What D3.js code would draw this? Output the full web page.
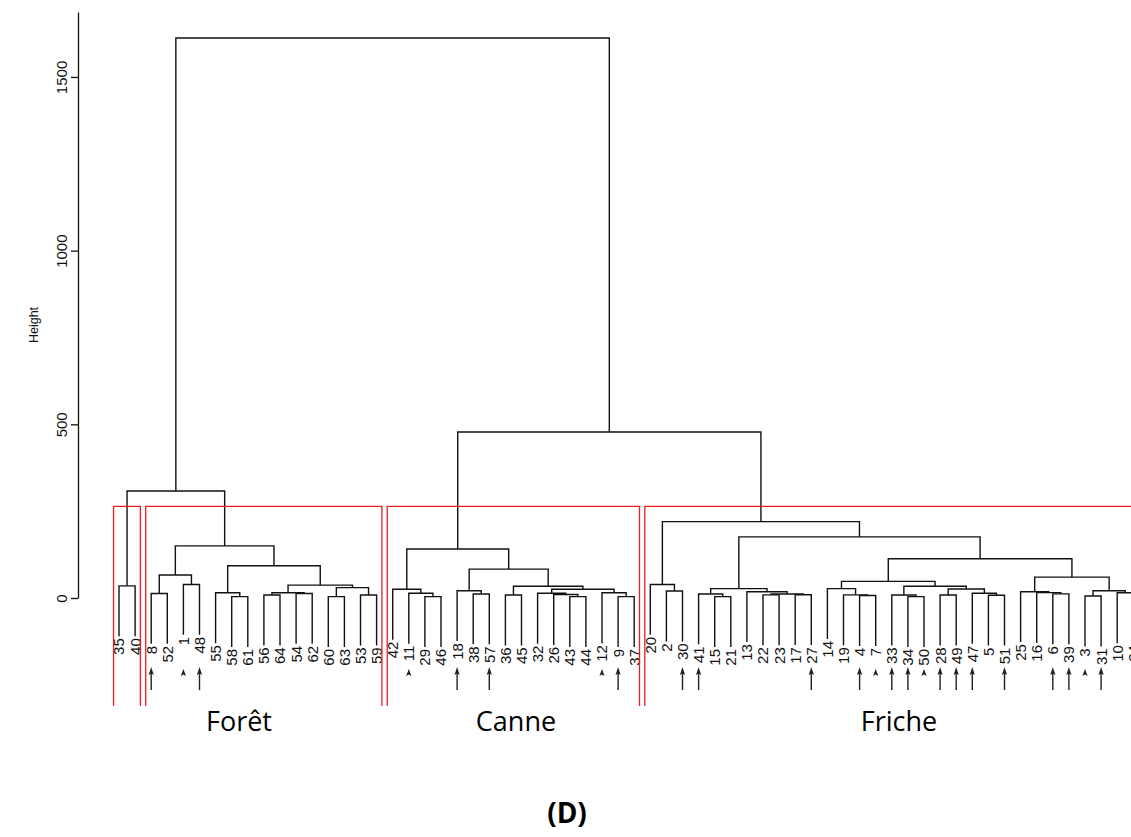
<!DOCTYPE html>
<html><head><meta charset="utf-8">
<script src="https://cdn.jsdelivr.net/npm/d3@7"></script>
<style>body{margin:0;background:#fff}</style>
</head><body><svg id="chart" width="1131" height="837"></svg>
<script>
// ---------- data ----------
// Internal nodes: [height, left, right]; leaves: observation number
const pairForet = [35, 35, 40];
const foretMain = [150,
  [66, [13, 8, 52], [39, 1, 48]],
  [93, [15, 55, [4, 58, 61]],
       [37, [15, [8.6, 56, 64], [13, 54, 62]], [30, [4, 60, 63], [8.6, 53, 59]]]]];
const canne = [141,
  [25, 42, [13.5, 11, [4, 29, 46]]],
  [83, [21, 18, [11.5, 38, 57]],
       [34, [8.6, 36, 45], [25, [13.5, 32, [10, 26, [4, 43, 44]]], [15, 12, [4, 9, 37]]]]]];
const friche = [220,
  [39, 20, [20, 2, 30]],
  [176,
    [27, [11.5, 41, [4, 15, 21]], [18, 13, [11.5, [9, 22, 23], [9.5, 17, 27]]]],
    [113,
      [48, [27, 14, [9, 19, [7, 4, 7]]],
           [34, [8.5, 33, [4, 34, 50]], [26, [8.6, 28, 49], [13.5, 47, [8, 5, 51]]]]],
      [60, [18, 25, [15.5, 16, [12, 6, 39]]], [21, [5.7, 3, 31], [15, 10, 24]]]]]];
const treeRoot = [1612, [308, pairForet, foretMain], [478, canne, friche]];

const clusterSizes = [2, 15, 16, 31];
const cutHeight = 264;
const groupNames = ["Forêt", "Canne", "Friche"];
const groupCenters = [239, 516, 899];   // label x positions (px)
const yTicks = [0, 500, 1000, 1500];
const longArrows = [8, 48, 18, 57, 9, 30, 41, 27, 4, 33, 34, 28, 49, 47, 51, 6, 39, 31];
const shortArrows = [1, 11, 12, 7, 50, 3];
const hang = 145;

// ---------- layout ----------
const svg = d3.select("#chart");
const nLeaves = 64;
const x = d3.scaleLinear().domain([0, nLeaves - 1]).range([119, 119 + 63 * 16.1]);
const y = d3.scaleLinear().domain([0, 1687]).range([598, 12]);

const root = d3.hierarchy(treeRoot, d => Array.isArray(d) ? d.slice(1) : null);
const leaves = root.leaves();
leaves.forEach((l, i) => { l.px = x(i); l.label = l.data; });
root.eachAfter(n => {
  if (n.children) {
    n.px = d3.mean(n.children, c => c.px);
    n.h = n.data[0];
    n.py = y(n.h);
  }
});
leaves.forEach(l => { l.py = y(l.parent.h - hang); });
const leafX = {};
leaves.forEach(l => { leafX[l.label] = l.px; });

// ---------- dendrogram ----------
const g = svg.append("g");
const internal = root.descendants().filter(n => n.children);
g.selectAll("path.branch").data(internal).join("path")
  .attr("class", "branch")
  .attr("fill", "none").attr("stroke", "#111").attr("stroke-width", 1.4)
  .attr("d", n => {
    const [a, b] = n.children;
    return `M${a.px},${a.py}V${n.py}H${b.px}V${b.py}`;
  });

// leaf labels
g.selectAll("text.leaf").data(leaves).join("text")
  .attr("class", "leaf")
  .attr("transform", l => `translate(${l.px},${l.py + 2}) rotate(-90)`)
  .attr("text-anchor", "end").attr("dy", "0.36em")
  .attr("font-family", "Liberation Sans, Arial, sans-serif").attr("font-size", 15)
  .attr("fill", "#111")
  .text(l => l.label);

// ---------- cluster rectangles ----------
let start = 0;
const rects = clusterSizes.map(s => { const r = [start, start + s - 1]; start += s; return r; });
svg.selectAll("path.rect").data(rects).join("path")
  .attr("class", "rect").attr("fill", "none").attr("stroke", "#e62020").attr("stroke-width", 1.3)
  .attr("d", r => `M${x(r[0] - 0.34)},706V${y(cutHeight)}H${x(r[1] + 0.33)}V706`);

// ---------- arrows ----------
const ag = svg.append("g").attr("fill", "#222").attr("stroke", "#222");
ag.selectAll("line").data(longArrows).join("line")
  .attr("x1", d => leafX[d]).attr("x2", d => leafX[d])
  .attr("y1", 690).attr("y2", 673).attr("stroke-width", 1.4);
ag.selectAll("path.lh").data(longArrows).join("path")
  .attr("class", "lh").attr("stroke", "none")
  .attr("d", d => { const c = leafX[d]; return `M${c},667L${c - 2.6},675L${c},673.5L${c + 2.6},675Z`; });
ag.selectAll("path.sh").data(shortArrows).join("path")
  .attr("class", "sh").attr("stroke", "none")
  .attr("d", d => { const c = leafX[d]; return `M${c},669L${c - 2.6},676L${c},674.5L${c + 2.6},676Z`; });

// ---------- y axis ----------
const axis = svg.append("g").attr("transform", "translate(78,0)")
  .call(d3.axisLeft(y).tickValues(yTicks).tickFormat(d3.format("d")).tickSize(7).tickSizeOuter(0));
axis.select(".domain").attr("stroke", "#111").attr("stroke-width", 1.3);
axis.selectAll(".tick line").attr("stroke", "#111").attr("stroke-width", 1.3);
axis.selectAll(".tick text")
  .attr("transform", "rotate(-90)").attr("x", 0).attr("y", -11).attr("dy", 0)
  .attr("text-anchor", "middle").attr("font-family", "Liberation Sans, Arial, sans-serif")
  .attr("font-size", 15).attr("fill", "#111");

svg.append("text").attr("transform", "translate(38,325) rotate(-90)")
  .attr("text-anchor", "middle").attr("font-family", "Liberation Sans, Arial, sans-serif")
  .attr("font-size", 12.5).attr("fill", "#111").text("Height");

// ---------- group names & panel label ----------
svg.selectAll("text.grp").data(groupNames).join("text").attr("class", "grp")
  .attr("x", (d, i) => groupCenters[i]).attr("y", 731)
  .attr("text-anchor", "middle").attr("font-family", "Open Sans, sans-serif")
  .attr("font-size", 27).attr("fill", "#000").text(d => d);

svg.append("text").attr("x", 567).attr("y", 823).attr("text-anchor", "middle")
  .attr("font-family", "Open Sans, sans-serif").attr("font-weight", "bold")
  .attr("font-size", 28).attr("fill", "#000").text("(D)");
</script></body></html>
